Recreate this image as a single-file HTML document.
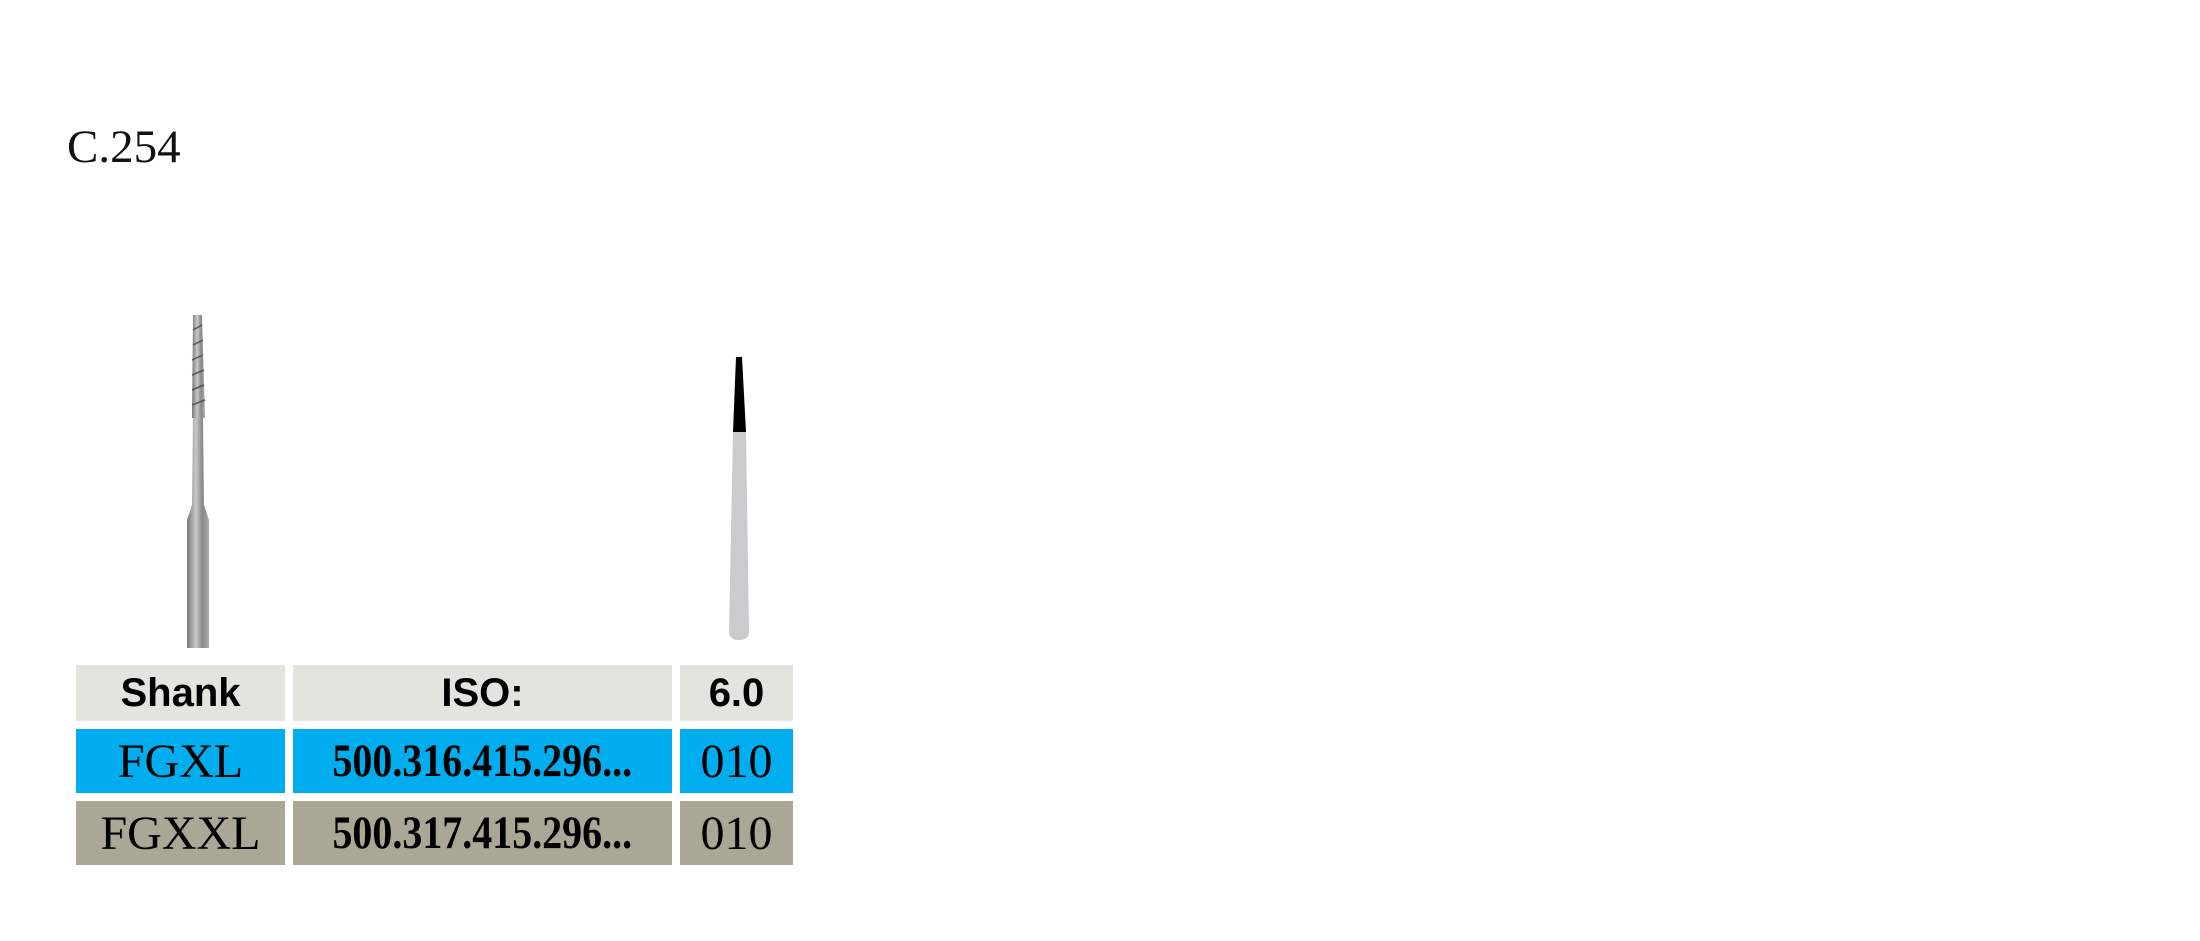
<!DOCTYPE html>
<html><head><meta charset="utf-8"><style>
body{margin:0;background:#fff;width:2200px;height:941px;position:relative;overflow:hidden}
.t{position:absolute;left:67px;top:120px;font:47px "Liberation Serif",serif;color:#111}
.c{position:absolute;display:flex;align-items:center;justify-content:center;color:#000}
.h{background:#e4e4df;font:bold 40px "Liberation Sans",sans-serif}
.b{background:#00aeef}
.g{background:#aaa796}
.s{font:48px "Liberation Serif",serif}
.n{font:bold 47px "Liberation Serif",serif}
.n span{display:inline-block;transform:scaleX(0.85)}
</style></head><body>
<div class="t">C.254</div>
<svg width="2200" height="941" style="position:absolute;left:0;top:0">
<defs><linearGradient id="m" x1="0" x2="1"><stop offset="0" stop-color="#777"/><stop offset=".4" stop-color="#c8c8c8"/><stop offset=".7" stop-color="#888"/><stop offset="1" stop-color="#aaa"/></linearGradient></defs>
<polygon points="193,315 202,315 205,418 192,418" fill="url(#m)"/>
<g stroke="#555" stroke-width="1.5"><line x1="193" y1="330" x2="202" y2="325"/><line x1="193" y1="345" x2="203" y2="340"/><line x1="192" y1="360" x2="203" y2="355"/><line x1="192" y1="375" x2="204" y2="370"/><line x1="192" y1="390" x2="204" y2="385"/><line x1="192" y1="405" x2="205" y2="400"/></g>
<polygon points="193,418 203,418 204,505 209,520 209,648 187,648 187,520 192,505" fill="url(#m)"/>
<polygon points="736,357 742,357 746,432 733,432" fill="#000"/>
<path d="M733,432 L746,432 L749,632 Q749,640 739,640 Q729,640 729,632 Z" fill="#cbcbcd"/>
</svg>
<div class="c h" style="left:76px;top:665px;width:209px;height:56px">Shank</div>
<div class="c h" style="left:293px;top:665px;width:379px;height:56px">ISO:</div>
<div class="c h" style="left:680px;top:665px;width:113px;height:56px">6.0</div>
<div class="c b s" style="left:76px;top:729px;width:209px;height:64px">FGXL</div>
<div class="c b n" style="left:293px;top:729px;width:379px;height:64px"><span>500.316.415.296...</span></div>
<div class="c b s" style="left:680px;top:729px;width:113px;height:64px">010</div>
<div class="c g s" style="left:76px;top:801px;width:209px;height:64px">FGXXL</div>
<div class="c g n" style="left:293px;top:801px;width:379px;height:64px"><span>500.317.415.296...</span></div>
<div class="c g s" style="left:680px;top:801px;width:113px;height:64px">010</div>
</body></html>
